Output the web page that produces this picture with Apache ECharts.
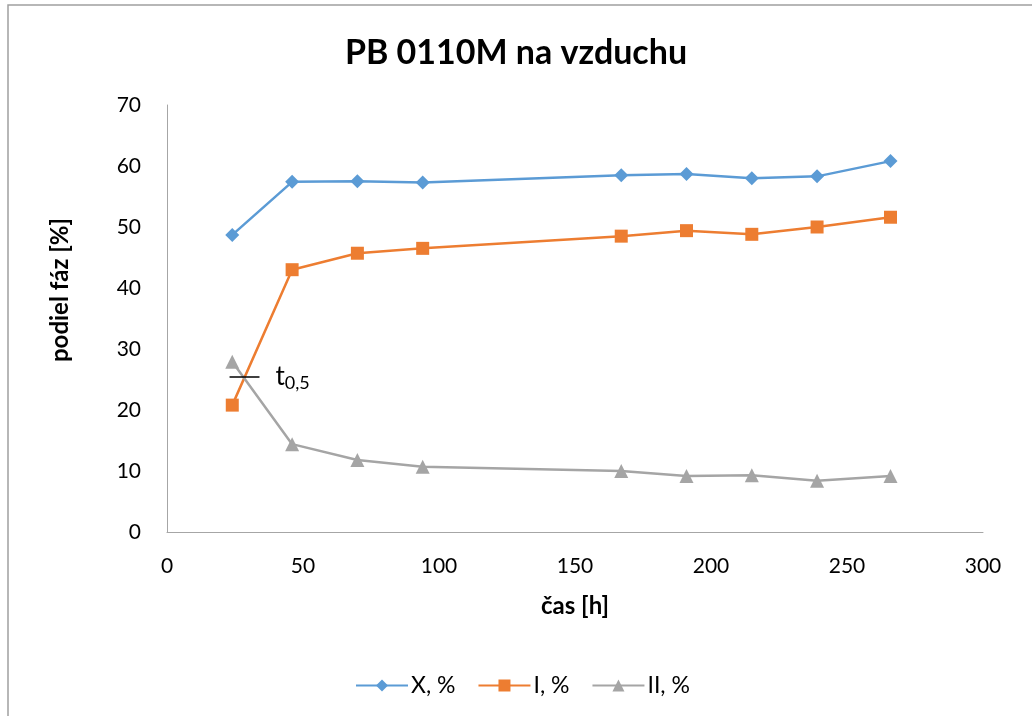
<!DOCTYPE html>
<html><head><meta charset="utf-8">
<script src="https://cdn.jsdelivr.net/npm/echarts@6/dist/echarts.min.js"></script>
<style>html,body{margin:0;padding:0;background:#fff}#c{width:1032px;height:716px}</style>
</head><body><div id="c"></div>
<script>
const hours = [24, 46, 70, 94, 167, 191, 215, 239, 266];
const seriesX = [48.7, 57.4, 57.5, 57.3, 58.5, 58.7, 58.0, 58.3, 60.8];
const seriesI = [20.8, 43.0, 45.7, 46.5, 48.5, 49.4, 48.8, 50.0, 51.6];
const seriesII = [27.9, 14.4, 11.8, 10.7, 10.0, 9.2, 9.3, 8.4, 9.2];
const names = ['X, %', 'I, %', 'II, %'];
const t05 = { x0: 23, x1: 34, y: 25.5 };

const font = 'Lato, "Open Sans", sans-serif';
const pair = (arr) => hours.map((h, i) => [h, arr[i]]);
const chart = echarts.init(document.getElementById('c'));
chart.setOption({
  animation: false,
  textStyle: { fontFamily: font },
  title: { text: 'PB 0110M na vzduchu', left: 'center', top: 31,
    textStyle: { fontFamily: font, fontSize: 34, fontWeight: 'bold', color: '#000' } },
  grid: { left: 167, right: 49, top: 105, bottom: 184 },
  xAxis: { type: 'value', min: 0, max: 300, interval: 50,
    name: 'čas [h]', nameLocation: 'middle', nameGap: 62,
    nameTextStyle: { fontSize: 24, fontWeight: 'bold', color: '#000' },
    axisLine: { lineStyle: { color: '#a6a6a6', width: 1 } },
    axisTick: { show: false }, splitLine: { show: false },
    axisLabel: { fontSize: 21, color: '#000', margin: 24 } },
  yAxis: { type: 'value', min: 0, max: 70, interval: 10,
    axisLine: { show: true, lineStyle: { color: '#a6a6a6', width: 1 } },
    axisTick: { show: false }, splitLine: { show: false },
    axisLabel: { fontSize: 21, color: '#000', margin: 26 } },
  legend: { top: 669, left: 350, itemWidth: 52, itemHeight: 15, itemGap: 22,
    textStyle: { fontSize: 23, color: '#000', fontFamily: font, padding: [0, 0, 0, -2] },
    data: names },
  graphic: [
    { type: 'rect', shape: { x: 8, y: 5, width: 1100, height: 800 },
      style: { fill: 'none', stroke: '#a0a0a0', lineWidth: 1.5 }, silent: true },
    { type: 'text', rotation: Math.PI / 2, x: 60, y: 290,
      style: { text: 'podiel fáz [%]', font: 'bold 24px ' + font, fill: '#000',
        align: 'center', verticalAlign: 'middle' } }
  ],
  series: [
    { name: names[0], type: 'line', data: pair(seriesX), symbol: 'diamond', symbolSize: 14,
      itemStyle: { color: '#5B9BD5' }, lineStyle: { width: 2.5, color: '#5B9BD5' } },
    { name: names[1], type: 'line', data: pair(seriesI), symbol: 'rect', symbolSize: 13,
      itemStyle: { color: '#ED7D31' }, lineStyle: { width: 2.5, color: '#ED7D31' } },
    { name: names[2], type: 'line', data: pair(seriesII), symbol: 'triangle', symbolSize: 14,
      itemStyle: { color: '#A5A5A5' }, lineStyle: { width: 2.5, color: '#A5A5A5' },
      markLine: { silent: true, symbol: 'none', animation: false,
        lineStyle: { color: '#000', type: 'solid', width: 1.5 },
        label: { show: true, position: 'end', distance: 16,
          formatter: '{a|t}{b|0,5}',
          rich: { a: { fontSize: 26, color: '#000', fontFamily: font },
                  b: { fontSize: 18, color: '#000', fontFamily: font, padding: [14, 0, 0, 0] } } },
        data: [[{ coord: [t05.x0, t05.y] }, { coord: [t05.x1, t05.y] }]] } }
  ]
});
</script></body></html>
